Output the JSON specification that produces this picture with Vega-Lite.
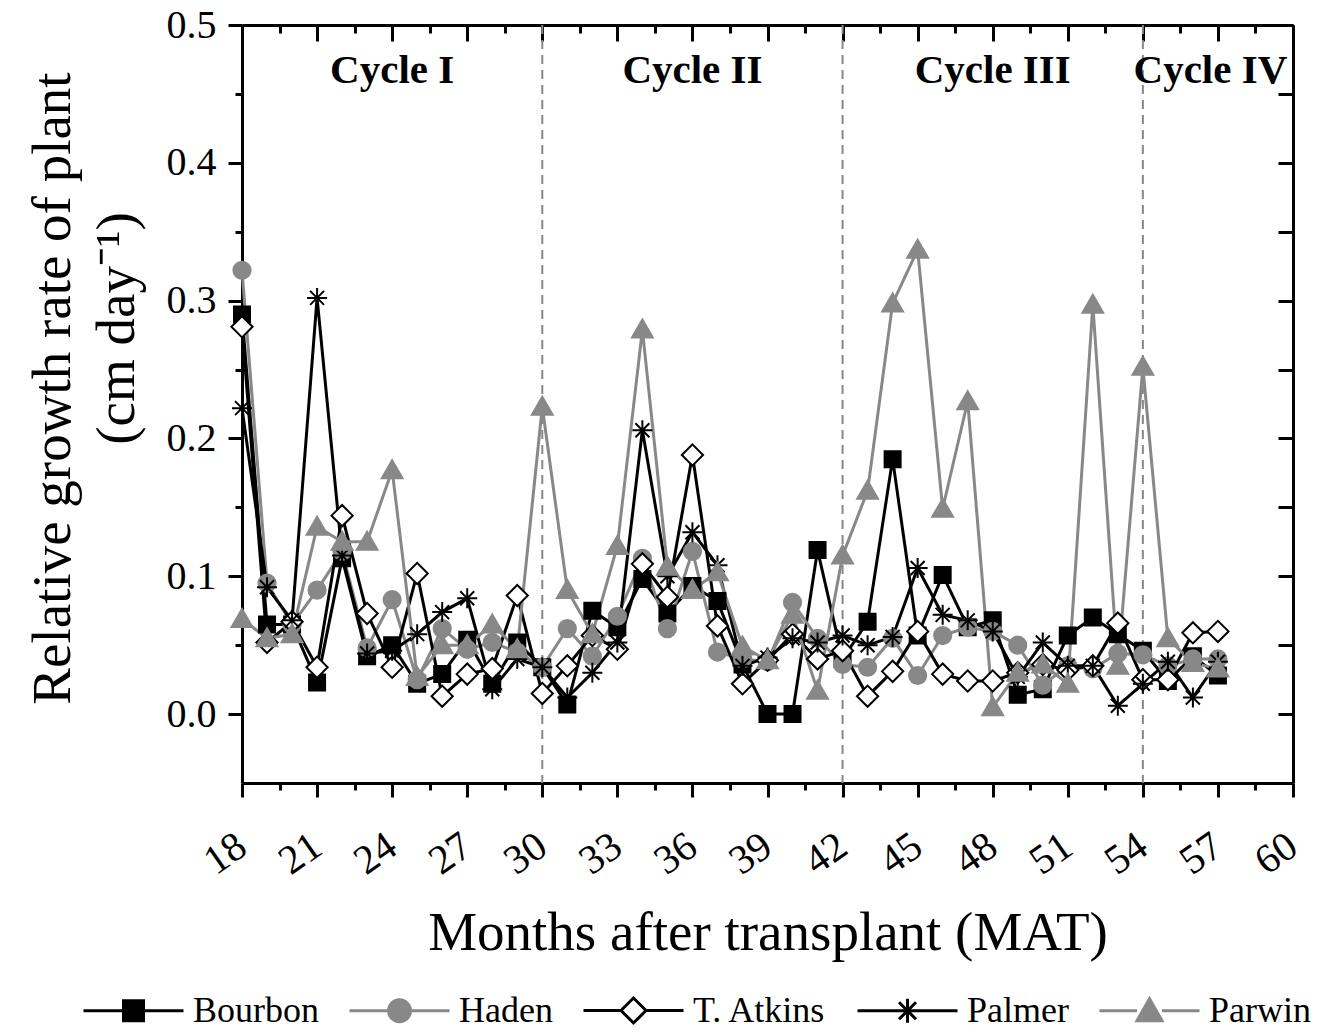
{
  "$schema": "https://vega.github.io/schema/vega-lite/v6.json",
  "description": "Relative growth rate of plant by cultivar, 18-57 months after transplant",
  "width": 1051,
  "height": 758,
  "autosize": {"type": "none"},
  "padding": {"left": 242, "top": 25, "right": 26, "bottom": 253},
  "background": "white",
  "config": {
    "font": "Liberation Serif",
    "view": {"stroke": null},
    "axis": {"grid": false, "domainColor": "black", "domainWidth": 3, "tickColor": "black", "tickWidth": 3, "labelColor": "black", "titleColor": "black", "labelFont": "Liberation Serif", "titleFont": "Liberation Serif"}
  },
  "resolve": {"axis": {"x": "independent", "y": "independent"}},
  "layer": [
    {
      "data": {"values": [{"MAT": 30}, {"MAT": 42}, {"MAT": 54}]},
      "mark": {"type": "rule", "color": "#888888", "strokeWidth": 2, "strokeDash": [9, 6]},
      "encoding": {
        "x": {"field": "MAT", "type": "quantitative", "axis": null, "scale": {"domain": [18, 60], "nice": false}}
      }
    },
    {
      "data": {"name": "rgr"},
      "mark": {"type": "line", "strokeWidth": 3},
      "encoding": {
        "x": {
          "field": "MAT", "type": "quantitative",
          "scale": {"domain": [18, 60], "nice": false},
          "axis": {
            "orient": "bottom",
            "values": [18, 19.5, 21, 22.5, 24, 25.5, 27, 28.5, 30, 31.5, 33, 34.5, 36, 37.5, 39, 40.5, 42, 43.5, 45, 46.5, 48, 49.5, 51, 52.5, 54, 55.5, 57, 58.5, 60],
            "labelExpr": "datum.value % 3 === 0 ? datum.label : ''",
            "labelAngle": -35, "labelAlign": "right", "labelBaseline": "middle",
            "labelFontSize": 41, "labelPadding": 45, "labelOverlap": false, "labelFlush": false, "labelBound": false,
            "tickSize": {"condition": {"test": "datum.value % 3 === 0", "value": 14}, "value": 7},
            "title": "Months after transplant (MAT)",
            "titleFontSize": 55, "titleFontWeight": "normal", "titleY": 166, "titleBaseline": "alphabetic"
          }
        },
        "y": {
          "field": "RGR", "type": "quantitative",
          "scale": {"domain": [-0.05, 0.5], "nice": false, "zero": false},
          "axis": {
            "orient": "left",
            "values": [0, 0.05, 0.1, 0.15, 0.2, 0.25, 0.3, 0.35, 0.4, 0.45, 0.5],
            "labelExpr": "round(datum.value * 20) % 2 === 0 ? format(datum.value, '.1f') : ''",
            "labelFontSize": 40, "labelPadding": 12, "labelOverlap": false, "labelFlush": false, "labelBound": false,
            "tickSize": {"condition": {"test": "round(datum.value * 20) % 2 === 0", "value": 14}, "value": 7},
            "title": ["Relative growth rate of plant", "\u2800\u2800\u2800(cm day\u207b\u00b9)"],
            "titleFontSize": 55, "titleFontWeight": "normal", "titleAngle": 270,
            "titleX": -173, "titleY": 363, "titleAlign": "center", "titleBaseline": "alphabetic", "titleLineHeight": 64
          }
        },
        "stroke": {
          "field": "cultivar", "type": "nominal",
          "scale": {"domain": ["Bourbon", "Haden", "T. Atkins", "Palmer", "Parwin"], "range": ["black", "#888888", "black", "black", "#888888"]},
          "legend": {
            "orient": "none", "legendX": -160, "legendY": 934,
            "direction": "horizontal", "columns": 5, "title": null,
            "symbolSize": 10000, "symbolStrokeWidth": 3, "symbolOpacity": 1,
            "labelFontSize": 36, "labelFont": "Liberation Serif", "labelColor": "black",
            "labelOffset": 8, "columnPadding": 24, "labelLimit": 0, "padding": 0
          }
        },
        "detail": {"field": "cultivar", "type": "nominal"}
      }
    },
    {
      "data": {"name": "rgr"},
      "mark": {"type": "point", "opacity": 0},
      "encoding": {
        "x": {"field": "MAT", "type": "quantitative", "axis": null},
        "y": {"field": "RGR", "type": "quantitative", "axis": null},
        "shape": {
          "field": "cultivar", "type": "nominal", "legend": null,
          "scale": {"domain": ["Bourbon", "Haden", "T. Atkins", "Palmer", "Parwin"], "range": [
            "M-1,0H-0.2M0.2,0H1M-0.2,-0.2H0.2V0.2H-0.2Z",
            "M-1,0H-0.22M0.22,0H1M-0.22,0A0.22,0.22,0,1,0,0.22,0A0.22,0.22,0,1,0,-0.22,0Z",
            "M-1,0H-0.25M0.25,0H1M-0.25,0L0,-0.25L0.25,0L0,0.25Z",
            "M-1,0H1M0,-0.24V0.24M-0.17,-0.17L0.17,0.17M-0.17,0.17L0.17,-0.17",
            "M-1,0H-0.25M0.25,0H1M0,-0.24L0.25,0.2L-0.25,0.2Z"
          ]}
        },
        "fill": {
          "field": "cultivar", "type": "nominal", "legend": null,
          "scale": {"domain": ["Bourbon", "Haden", "T. Atkins", "Palmer", "Parwin"], "range": ["black", "#888888", "white", "transparent", "#888888"]}
        },
        "stroke": {"field": "cultivar", "type": "nominal", "legend": null}
      }
    },
    {
      "data": {"name": "rgr"},
      "mark": {"type": "point", "size": 1600, "strokeWidth": 2, "opacity": 1},
      "encoding": {
        "x": {"field": "MAT", "type": "quantitative", "axis": null},
        "y": {"field": "RGR", "type": "quantitative", "axis": null},
        "detail": {"field": "cultivar", "type": "nominal"},
        "shape": {
          "condition": [
            {"test": "datum.cultivar === 'Bourbon'", "value": "M-0.4,-0.4H0.4V0.4H-0.4Z"},
            {"test": "datum.cultivar === 'Haden'", "value": "M-0.43,0A0.43,0.43,0,1,0,0.43,0A0.43,0.43,0,1,0,-0.43,0Z"},
            {"test": "datum.cultivar === 'T. Atkins'", "value": "M-0.53,0L0,-0.53L0.53,0L0,0.53Z"},
            {"test": "datum.cultivar === 'Palmer'", "value": "M-0.5,0H0.5M0,-0.5V0.5M-0.35,-0.35L0.35,0.35M-0.35,0.35L0.35,-0.35"}
          ],
          "value": "M0,-0.5L0.52,0.4L-0.52,0.4Z"
        },
        "fill": {
          "condition": [
            {"test": "datum.cultivar === 'Bourbon' || datum.cultivar === 'Palmer'", "value": "black"},
            {"test": "datum.cultivar === 'T. Atkins'", "value": "white"}
          ],
          "value": "#888888"
        },
        "stroke": {
          "condition": {"test": "datum.cultivar === 'Haden' || datum.cultivar === 'Parwin'", "value": "#888888"},
          "value": "black"
        }
      }
    },
    {
      "data": {"values": [
        {"MAT": 24, "RGR": 0.458, "label": "Cycle I"},
        {"MAT": 36, "RGR": 0.458, "label": "Cycle II"},
        {"MAT": 48, "RGR": 0.458, "label": "Cycle III"},
        {"MAT": 56.7, "RGR": 0.458, "label": "Cycle IV"}
      ]},
      "mark": {"type": "text", "fontSize": 41, "fontWeight": "bold", "align": "center", "baseline": "alphabetic", "color": "black"},
      "encoding": {
        "x": {
          "field": "MAT", "type": "quantitative",
          "axis": {
            "orient": "top", "labels": false, "title": null,
            "values": [18, 19.5, 21, 22.5, 24, 25.5, 27, 28.5, 30, 31.5, 33, 34.5, 36, 37.5, 39, 40.5, 42, 43.5, 45, 46.5, 48, 49.5, 51, 52.5, 54, 55.5, 57, 58.5, 60],
            "tickSize": {"condition": {"test": "datum.value % 3 === 0", "value": -16}, "value": -8}
          }
        },
        "y": {
          "field": "RGR", "type": "quantitative",
          "axis": {
            "orient": "right", "labels": false, "title": null,
            "values": [0, 0.05, 0.1, 0.15, 0.2, 0.25, 0.3, 0.35, 0.4, 0.45, 0.5],
            "tickSize": -15
          }
        },
        "text": {"field": "label", "type": "nominal"}
      }
    }
  ],
  "datasets": {
    "rgr": [
      {"MAT": 18, "cultivar": "Bourbon", "RGR": 0.29}, {"MAT": 19, "cultivar": "Bourbon", "RGR": 0.065}, {"MAT": 20, "cultivar": "Bourbon", "RGR": 0.065}, {"MAT": 21, "cultivar": "Bourbon", "RGR": 0.023},
      {"MAT": 22, "cultivar": "Bourbon", "RGR": 0.113}, {"MAT": 23, "cultivar": "Bourbon", "RGR": 0.042}, {"MAT": 24, "cultivar": "Bourbon", "RGR": 0.05}, {"MAT": 25, "cultivar": "Bourbon", "RGR": 0.022},
      {"MAT": 26, "cultivar": "Bourbon", "RGR": 0.029}, {"MAT": 27, "cultivar": "Bourbon", "RGR": 0.054}, {"MAT": 28, "cultivar": "Bourbon", "RGR": 0.022}, {"MAT": 29, "cultivar": "Bourbon", "RGR": 0.052},
      {"MAT": 30, "cultivar": "Bourbon", "RGR": 0.034}, {"MAT": 31, "cultivar": "Bourbon", "RGR": 0.007}, {"MAT": 32, "cultivar": "Bourbon", "RGR": 0.075}, {"MAT": 33, "cultivar": "Bourbon", "RGR": 0.063},
      {"MAT": 34, "cultivar": "Bourbon", "RGR": 0.098}, {"MAT": 35, "cultivar": "Bourbon", "RGR": 0.073}, {"MAT": 36, "cultivar": "Bourbon", "RGR": 0.093}, {"MAT": 37, "cultivar": "Bourbon", "RGR": 0.082},
      {"MAT": 38, "cultivar": "Bourbon", "RGR": 0.036}, {"MAT": 39, "cultivar": "Bourbon", "RGR": 0.0}, {"MAT": 40, "cultivar": "Bourbon", "RGR": 0.0}, {"MAT": 41, "cultivar": "Bourbon", "RGR": 0.119},
      {"MAT": 42, "cultivar": "Bourbon", "RGR": 0.04}, {"MAT": 43, "cultivar": "Bourbon", "RGR": 0.067}, {"MAT": 44, "cultivar": "Bourbon", "RGR": 0.185}, {"MAT": 45, "cultivar": "Bourbon", "RGR": 0.057},
      {"MAT": 46, "cultivar": "Bourbon", "RGR": 0.101}, {"MAT": 47, "cultivar": "Bourbon", "RGR": 0.063}, {"MAT": 48, "cultivar": "Bourbon", "RGR": 0.068}, {"MAT": 49, "cultivar": "Bourbon", "RGR": 0.014},
      {"MAT": 50, "cultivar": "Bourbon", "RGR": 0.018}, {"MAT": 51, "cultivar": "Bourbon", "RGR": 0.057}, {"MAT": 52, "cultivar": "Bourbon", "RGR": 0.07}, {"MAT": 53, "cultivar": "Bourbon", "RGR": 0.058},
      {"MAT": 54, "cultivar": "Bourbon", "RGR": 0.046}, {"MAT": 55, "cultivar": "Bourbon", "RGR": 0.024}, {"MAT": 56, "cultivar": "Bourbon", "RGR": 0.042}, {"MAT": 57, "cultivar": "Bourbon", "RGR": 0.028},

      {"MAT": 18, "cultivar": "Haden", "RGR": 0.322}, {"MAT": 19, "cultivar": "Haden", "RGR": 0.095}, {"MAT": 20, "cultivar": "Haden", "RGR": 0.065}, {"MAT": 21, "cultivar": "Haden", "RGR": 0.09},
      {"MAT": 22, "cultivar": "Haden", "RGR": 0.118}, {"MAT": 23, "cultivar": "Haden", "RGR": 0.048}, {"MAT": 24, "cultivar": "Haden", "RGR": 0.083}, {"MAT": 25, "cultivar": "Haden", "RGR": 0.025},
      {"MAT": 26, "cultivar": "Haden", "RGR": 0.062}, {"MAT": 27, "cultivar": "Haden", "RGR": 0.047}, {"MAT": 28, "cultivar": "Haden", "RGR": 0.052}, {"MAT": 29, "cultivar": "Haden", "RGR": 0.045},
      {"MAT": 30, "cultivar": "Haden", "RGR": 0.034}, {"MAT": 31, "cultivar": "Haden", "RGR": 0.062}, {"MAT": 32, "cultivar": "Haden", "RGR": 0.042}, {"MAT": 33, "cultivar": "Haden", "RGR": 0.071},
      {"MAT": 34, "cultivar": "Haden", "RGR": 0.113}, {"MAT": 35, "cultivar": "Haden", "RGR": 0.062}, {"MAT": 36, "cultivar": "Haden", "RGR": 0.118}, {"MAT": 37, "cultivar": "Haden", "RGR": 0.045},
      {"MAT": 38, "cultivar": "Haden", "RGR": 0.04}, {"MAT": 39, "cultivar": "Haden", "RGR": 0.038}, {"MAT": 40, "cultivar": "Haden", "RGR": 0.081}, {"MAT": 41, "cultivar": "Haden", "RGR": 0.055},
      {"MAT": 42, "cultivar": "Haden", "RGR": 0.036}, {"MAT": 43, "cultivar": "Haden", "RGR": 0.034}, {"MAT": 44, "cultivar": "Haden", "RGR": 0.055}, {"MAT": 45, "cultivar": "Haden", "RGR": 0.028},
      {"MAT": 46, "cultivar": "Haden", "RGR": 0.057}, {"MAT": 47, "cultivar": "Haden", "RGR": 0.063}, {"MAT": 48, "cultivar": "Haden", "RGR": 0.06}, {"MAT": 49, "cultivar": "Haden", "RGR": 0.05},
      {"MAT": 50, "cultivar": "Haden", "RGR": 0.021}, {"MAT": 51, "cultivar": "Haden", "RGR": 0.035}, {"MAT": 52, "cultivar": "Haden", "RGR": 0.033}, {"MAT": 53, "cultivar": "Haden", "RGR": 0.044},
      {"MAT": 54, "cultivar": "Haden", "RGR": 0.043}, {"MAT": 55, "cultivar": "Haden", "RGR": 0.035}, {"MAT": 56, "cultivar": "Haden", "RGR": 0.04}, {"MAT": 57, "cultivar": "Haden", "RGR": 0.04},

      {"MAT": 18, "cultivar": "T. Atkins", "RGR": 0.281}, {"MAT": 19, "cultivar": "T. Atkins", "RGR": 0.052}, {"MAT": 20, "cultivar": "T. Atkins", "RGR": 0.067}, {"MAT": 21, "cultivar": "T. Atkins", "RGR": 0.034},
      {"MAT": 22, "cultivar": "T. Atkins", "RGR": 0.144}, {"MAT": 23, "cultivar": "T. Atkins", "RGR": 0.073}, {"MAT": 24, "cultivar": "T. Atkins", "RGR": 0.034}, {"MAT": 25, "cultivar": "T. Atkins", "RGR": 0.102},
      {"MAT": 26, "cultivar": "T. Atkins", "RGR": 0.013}, {"MAT": 27, "cultivar": "T. Atkins", "RGR": 0.029}, {"MAT": 28, "cultivar": "T. Atkins", "RGR": 0.033}, {"MAT": 29, "cultivar": "T. Atkins", "RGR": 0.086},
      {"MAT": 30, "cultivar": "T. Atkins", "RGR": 0.015}, {"MAT": 31, "cultivar": "T. Atkins", "RGR": 0.035}, {"MAT": 32, "cultivar": "T. Atkins", "RGR": 0.057}, {"MAT": 33, "cultivar": "T. Atkins", "RGR": 0.047},
      {"MAT": 34, "cultivar": "T. Atkins", "RGR": 0.109}, {"MAT": 35, "cultivar": "T. Atkins", "RGR": 0.085}, {"MAT": 36, "cultivar": "T. Atkins", "RGR": 0.188}, {"MAT": 37, "cultivar": "T. Atkins", "RGR": 0.064},
      {"MAT": 38, "cultivar": "T. Atkins", "RGR": 0.022}, {"MAT": 39, "cultivar": "T. Atkins", "RGR": 0.039}, {"MAT": 40, "cultivar": "T. Atkins", "RGR": 0.058}, {"MAT": 41, "cultivar": "T. Atkins", "RGR": 0.04},
      {"MAT": 42, "cultivar": "T. Atkins", "RGR": 0.046}, {"MAT": 43, "cultivar": "T. Atkins", "RGR": 0.013}, {"MAT": 44, "cultivar": "T. Atkins", "RGR": 0.031}, {"MAT": 45, "cultivar": "T. Atkins", "RGR": 0.06},
      {"MAT": 46, "cultivar": "T. Atkins", "RGR": 0.029}, {"MAT": 47, "cultivar": "T. Atkins", "RGR": 0.024}, {"MAT": 48, "cultivar": "T. Atkins", "RGR": 0.024}, {"MAT": 49, "cultivar": "T. Atkins", "RGR": 0.03},
      {"MAT": 50, "cultivar": "T. Atkins", "RGR": 0.036}, {"MAT": 51, "cultivar": "T. Atkins", "RGR": 0.032}, {"MAT": 52, "cultivar": "T. Atkins", "RGR": 0.035}, {"MAT": 53, "cultivar": "T. Atkins", "RGR": 0.066},
      {"MAT": 54, "cultivar": "T. Atkins", "RGR": 0.025}, {"MAT": 55, "cultivar": "T. Atkins", "RGR": 0.025}, {"MAT": 56, "cultivar": "T. Atkins", "RGR": 0.059}, {"MAT": 57, "cultivar": "T. Atkins", "RGR": 0.06},

      {"MAT": 18, "cultivar": "Palmer", "RGR": 0.222}, {"MAT": 19, "cultivar": "Palmer", "RGR": 0.092}, {"MAT": 20, "cultivar": "Palmer", "RGR": 0.068}, {"MAT": 21, "cultivar": "Palmer", "RGR": 0.302},
      {"MAT": 22, "cultivar": "Palmer", "RGR": 0.115}, {"MAT": 23, "cultivar": "Palmer", "RGR": 0.044}, {"MAT": 24, "cultivar": "Palmer", "RGR": 0.046}, {"MAT": 25, "cultivar": "Palmer", "RGR": 0.058},
      {"MAT": 26, "cultivar": "Palmer", "RGR": 0.074}, {"MAT": 27, "cultivar": "Palmer", "RGR": 0.084}, {"MAT": 28, "cultivar": "Palmer", "RGR": 0.018}, {"MAT": 29, "cultivar": "Palmer", "RGR": 0.04},
      {"MAT": 30, "cultivar": "Palmer", "RGR": 0.034}, {"MAT": 31, "cultivar": "Palmer", "RGR": 0.012}, {"MAT": 32, "cultivar": "Palmer", "RGR": 0.03}, {"MAT": 33, "cultivar": "Palmer", "RGR": 0.052},
      {"MAT": 34, "cultivar": "Palmer", "RGR": 0.206}, {"MAT": 35, "cultivar": "Palmer", "RGR": 0.1}, {"MAT": 36, "cultivar": "Palmer", "RGR": 0.132}, {"MAT": 37, "cultivar": "Palmer", "RGR": 0.108},
      {"MAT": 38, "cultivar": "Palmer", "RGR": 0.035}, {"MAT": 39, "cultivar": "Palmer", "RGR": 0.041}, {"MAT": 40, "cultivar": "Palmer", "RGR": 0.055}, {"MAT": 41, "cultivar": "Palmer", "RGR": 0.052},
      {"MAT": 42, "cultivar": "Palmer", "RGR": 0.057}, {"MAT": 43, "cultivar": "Palmer", "RGR": 0.05}, {"MAT": 44, "cultivar": "Palmer", "RGR": 0.056}, {"MAT": 45, "cultivar": "Palmer", "RGR": 0.106},
      {"MAT": 46, "cultivar": "Palmer", "RGR": 0.072}, {"MAT": 47, "cultivar": "Palmer", "RGR": 0.068}, {"MAT": 48, "cultivar": "Palmer", "RGR": 0.06}, {"MAT": 49, "cultivar": "Palmer", "RGR": 0.027},
      {"MAT": 50, "cultivar": "Palmer", "RGR": 0.052}, {"MAT": 51, "cultivar": "Palmer", "RGR": 0.035}, {"MAT": 52, "cultivar": "Palmer", "RGR": 0.035}, {"MAT": 53, "cultivar": "Palmer", "RGR": 0.006},
      {"MAT": 54, "cultivar": "Palmer", "RGR": 0.022}, {"MAT": 55, "cultivar": "Palmer", "RGR": 0.038}, {"MAT": 56, "cultivar": "Palmer", "RGR": 0.012}, {"MAT": 57, "cultivar": "Palmer", "RGR": 0.038},

      {"MAT": 18, "cultivar": "Parwin", "RGR": 0.069}, {"MAT": 19, "cultivar": "Parwin", "RGR": 0.055}, {"MAT": 20, "cultivar": "Parwin", "RGR": 0.058}, {"MAT": 21, "cultivar": "Parwin", "RGR": 0.136},
      {"MAT": 22, "cultivar": "Parwin", "RGR": 0.125}, {"MAT": 23, "cultivar": "Parwin", "RGR": 0.125}, {"MAT": 24, "cultivar": "Parwin", "RGR": 0.177}, {"MAT": 25, "cultivar": "Parwin", "RGR": 0.027},
      {"MAT": 26, "cultivar": "Parwin", "RGR": 0.05}, {"MAT": 27, "cultivar": "Parwin", "RGR": 0.05}, {"MAT": 28, "cultivar": "Parwin", "RGR": 0.065}, {"MAT": 29, "cultivar": "Parwin", "RGR": 0.047},
      {"MAT": 30, "cultivar": "Parwin", "RGR": 0.223}, {"MAT": 31, "cultivar": "Parwin", "RGR": 0.09}, {"MAT": 32, "cultivar": "Parwin", "RGR": 0.058}, {"MAT": 33, "cultivar": "Parwin", "RGR": 0.122},
      {"MAT": 34, "cultivar": "Parwin", "RGR": 0.279}, {"MAT": 35, "cultivar": "Parwin", "RGR": 0.107}, {"MAT": 36, "cultivar": "Parwin", "RGR": 0.09}, {"MAT": 37, "cultivar": "Parwin", "RGR": 0.103},
      {"MAT": 38, "cultivar": "Parwin", "RGR": 0.049}, {"MAT": 39, "cultivar": "Parwin", "RGR": 0.039}, {"MAT": 40, "cultivar": "Parwin", "RGR": 0.072}, {"MAT": 41, "cultivar": "Parwin", "RGR": 0.017},
      {"MAT": 42, "cultivar": "Parwin", "RGR": 0.115}, {"MAT": 43, "cultivar": "Parwin", "RGR": 0.162}, {"MAT": 44, "cultivar": "Parwin", "RGR": 0.298}, {"MAT": 45, "cultivar": "Parwin", "RGR": 0.337},
      {"MAT": 46, "cultivar": "Parwin", "RGR": 0.149}, {"MAT": 47, "cultivar": "Parwin", "RGR": 0.227}, {"MAT": 48, "cultivar": "Parwin", "RGR": 0.005}, {"MAT": 49, "cultivar": "Parwin", "RGR": 0.03},
      {"MAT": 50, "cultivar": "Parwin", "RGR": 0.036}, {"MAT": 51, "cultivar": "Parwin", "RGR": 0.022}, {"MAT": 52, "cultivar": "Parwin", "RGR": 0.297}, {"MAT": 53, "cultivar": "Parwin", "RGR": 0.035},
      {"MAT": 54, "cultivar": "Parwin", "RGR": 0.252}, {"MAT": 55, "cultivar": "Parwin", "RGR": 0.055}, {"MAT": 56, "cultivar": "Parwin", "RGR": 0.037}, {"MAT": 57, "cultivar": "Parwin", "RGR": 0.033}
    ]
  }
}
